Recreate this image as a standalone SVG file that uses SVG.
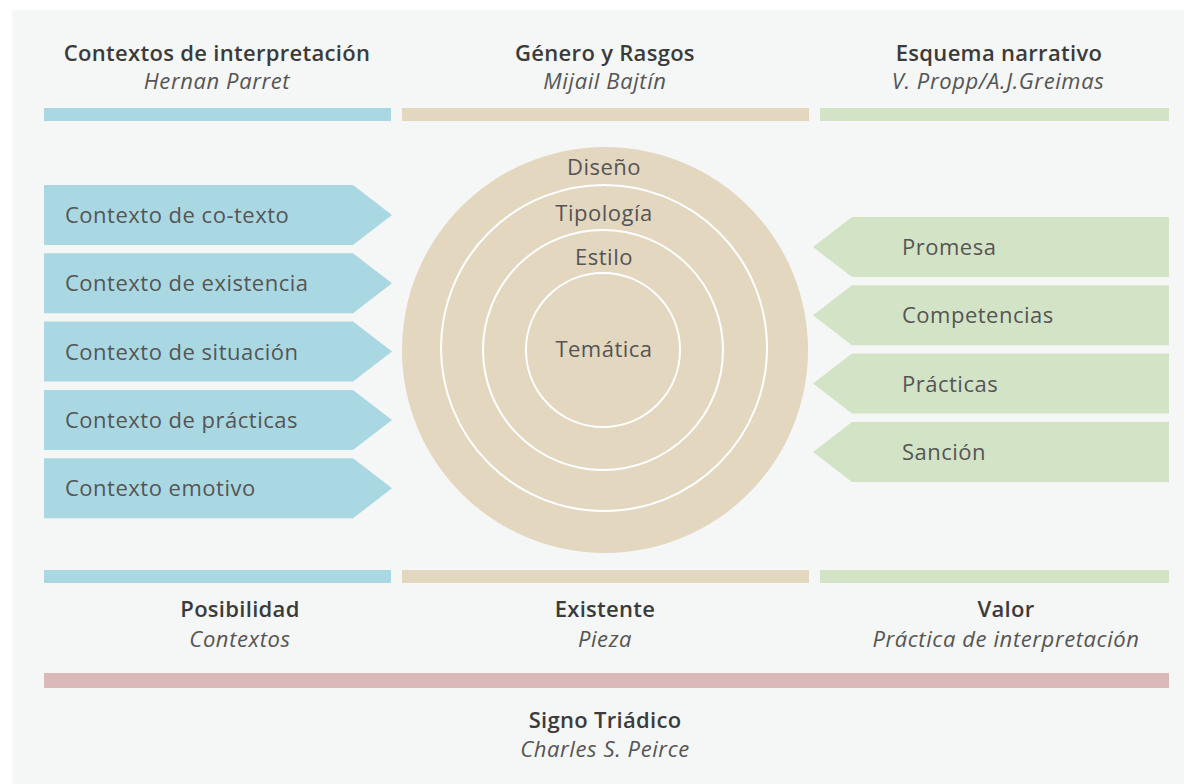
<svg xmlns="http://www.w3.org/2000/svg" width="1192" height="784" viewBox="0 0 1192 784">
<style>
.t{font-family:"Open Sans","Noto Sans","Liberation Sans",sans-serif;fill:#3b3b3b;text-anchor:middle}
.h{font-size:22px;font-weight:600;letter-spacing:0.3px}
.i{font-size:22px;font-style:italic;fill:#555;letter-spacing:0.6px}
.b{font-family:"Open Sans","Noto Sans","Liberation Sans",sans-serif;font-size:22px;fill:#555;letter-spacing:0.5px}
.c{font-family:"Open Sans","Noto Sans","Liberation Sans",sans-serif;font-size:22px;fill:#555;text-anchor:middle;letter-spacing:0.5px}
.blue{fill:#a9d8e3}
.tan{fill:#e3d7c0}
.green{fill:#d3e3c5}
.ring{fill:none;stroke:#ffffff;stroke-width:2}
</style>
<rect width="1192" height="784" fill="#ffffff"/>
<rect x="12" y="10" width="1172" height="774" fill="#f5f6f6"/>

<g id="headers">
<text class="t h" x="217" y="61">Contextos de interpretación</text>
<text class="t i" x="217" y="89">Hernan Parret</text>
<text class="t h" x="605" y="61">Género y Rasgos</text>
<text class="t i" x="605" y="89">Mijail Bajtín</text>
<text class="t h" x="999" y="61">Esquema narrativo</text>
<text class="t i" x="998" y="89">V. Propp/A.J.Greimas</text>
<rect class="blue" x="44" y="108" width="347" height="13"/>
<rect class="tan" x="402" y="108" width="407" height="13"/>
<rect class="green" x="820" y="108" width="349" height="13"/>
</g>

<g id="left-contexts">
<g id="ctx1"><path class="blue" d="M44 185H353L392 215L353 245H44Z"/><text class="b" x="65" y="223">Contexto de co-texto</text></g>
<g id="ctx2"><path class="blue" d="M44 253.3H353L392 283.3L353 313.3H44Z"/><text class="b" x="65" y="291.3">Contexto de existencia</text></g>
<g id="ctx3"><path class="blue" d="M44 321.6H353L392 351.6L353 381.6H44Z"/><text class="b" x="65" y="359.6">Contexto de situación</text></g>
<g id="ctx4"><path class="blue" d="M44 390H353L392 420L353 450H44Z"/><text class="b" x="65" y="428">Contexto de prácticas</text></g>
<g id="ctx5"><path class="blue" d="M44 458.3H353L392 488.3L353 518.3H44Z"/><text class="b" x="65" y="496.3">Contexto emotivo</text></g>
</g>

<g id="circle">
<circle class="tan" cx="605" cy="350" r="203"/>
<circle class="ring" cx="604" cy="348" r="163"/>
<circle class="ring" cx="603" cy="350" r="120"/>
<circle class="ring" cx="603" cy="350" r="77"/>
<text class="c" x="604" y="175">Diseño</text>
<text class="c" x="604" y="221">Tipología</text>
<text class="c" x="604" y="265">Estilo</text>
<text class="c" x="604" y="357">Temática</text>
</g>

<g id="right-narrative">
<g id="nar1"><path class="green" d="M1169 217H852L813 247L852 277H1169Z"/><text class="b" x="902" y="255">Promesa</text></g>
<g id="nar2"><path class="green" d="M1169 285.3H852L813 315.3L852 345.3H1169Z"/><text class="b" x="902" y="323.3">Competencias</text></g>
<g id="nar3"><path class="green" d="M1169 353.6H852L813 383.6L852 413.6H1169Z"/><text class="b" x="902" y="391.6">Prácticas</text></g>
<g id="nar4"><path class="green" d="M1169 422H852L813 452L852 482H1169Z"/><text class="b" x="902" y="460">Sanción</text></g>
</g>

<g id="footers">
<rect class="blue" x="44" y="570" width="347" height="13"/>
<rect class="tan" x="402" y="570" width="407" height="13"/>
<rect class="green" x="820" y="570" width="349" height="13"/>
<text class="t h" x="240" y="617">Posibilidad</text>
<text class="t i" x="240" y="647">Contextos</text>
<text class="t h" x="605" y="617">Existente</text>
<text class="t i" x="605" y="647">Pieza</text>
<text class="t h" x="1006" y="617">Valor</text>
<text class="t i" x="1006" y="647">Práctica de interpretación</text>
</g>

<g id="signo">
<rect x="44" y="673" width="1125" height="15" fill="#dbb9b9"/>
<text class="t h" x="605" y="728">Signo Triádico</text>
<text class="t i" x="605" y="757">Charles S. Peirce</text>
</g>
</svg>
